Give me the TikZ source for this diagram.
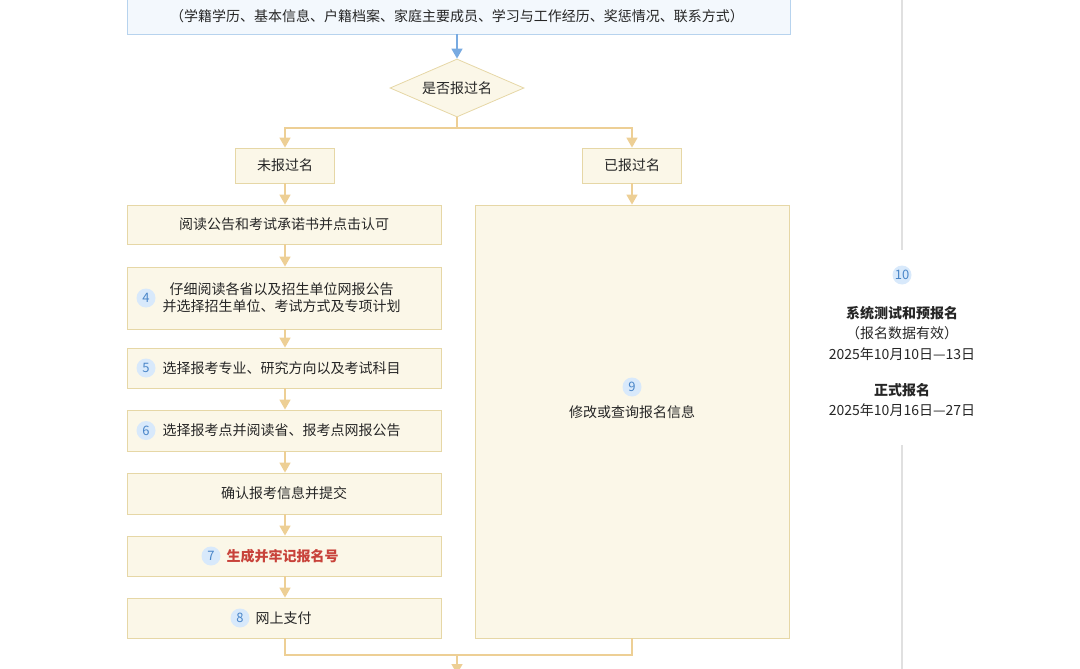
\documentclass[tikz,border=0pt]{standalone}
\usepackage{fontspec}
\setmainfont{Noto Sans CJK SC}
\usetikzlibrary{shapes.geometric,arrows.meta}
\definecolor{bfill}{HTML}{FBF7E8}
\definecolor{bdraw}{HTML}{E6D7A6}
\definecolor{arr}{HTML}{EDCF95}
\definecolor{cfill}{HTML}{D8E9FB}
\definecolor{cnum}{HTML}{4A86C8}
\definecolor{tfill}{HTML}{F3F8FD}
\definecolor{tdraw}{HTML}{B7D3EE}
\definecolor{redt}{HTML}{C8423A}
\begin{document}
\begin{tikzpicture}[x=1pt,y=-1pt,
  box/.style={draw=bdraw,fill=bfill,line width=0.8pt,inner sep=0pt},
  txt/.style={font=\fontsize{14}{17}\selectfont,text=black!85,align=center},
  num/.style={circle,fill=cfill,text=cnum,inner sep=0pt,minimum size=19pt,font=\fontsize{13}{13}\selectfont},
  con/.style={draw=arr,line width=1.6pt},
  arw/.style={con,-{Triangle[width=11pt,length=10pt]}}]
\useasboundingbox (0,0) rectangle (1080,669);
% top box
\path[draw=tdraw,fill=tfill,line width=0.8pt] (127,-10) rectangle (790,34);
\node[txt] (top) at (457,16) {（学籍学历、基本信息、户籍档案、家庭主要成员、学习与工作经历、奖惩情况、联系方式）};
\coordinate (topb) at (457,34);
\node[diamond,draw=bdraw,fill=bfill,line width=0.8pt,minimum width=134pt,minimum height=58pt,inner sep=0pt,aspect=2.3,txt] (q) at (457,88) {是否报过名};
\draw[line width=1.6pt,-{Triangle[width=11pt,length=10pt]},draw={rgb,255:red,120;green,170;blue,225}] (topb) -- (q.north);
% branch boxes
\node[box,minimum width=99pt,minimum height=35pt,txt] (no) at (285,165.5) {未报过名};
\node[box,minimum width=99pt,minimum height=35pt,txt] (yes) at (632,165.5) {已报过名};
\coordinate (split) at (457,128);
\draw[con] (q.south) -- (split);
\draw[arw] (split) -| (no.north);
\draw[arw] (split) -| (yes.north);
% left chain
\node[box,minimum width=314pt,minimum height=39pt,txt] (s1) at (284,224.5) {阅读公告和考试承诺书并点击认可};
\node[box,minimum width=314pt,minimum height=62pt] (s4) at (284,298) {};
\node[num] (n4) at (146,298) {4};
\node[txt,anchor=west] (t4) at (159,298) {仔细阅读各省以及招生单位网报公告\\并选择招生单位、考试方式及专项计划};
\node[box,minimum width=314pt,minimum height=40pt] (s5) at (284,368) {};
\node[num] (n5) at (146,368) {5};
\node[txt,anchor=west] (t5) at (159,368) {选择报考专业、研究方向以及考试科目};
\node[box,minimum width=314pt,minimum height=41pt] (s6) at (284,430.5) {};
\node[num] (n6) at (146,430.5) {6};
\node[txt,anchor=west] (t6) at (159,430.5) {选择报考点并阅读省、报考点网报公告};
\node[box,minimum width=314pt,minimum height=41pt,txt] (s7a) at (284,493.5) {确认报考信息并提交};
\node[box,minimum width=314pt,minimum height=40pt] (s7) at (284,556) {};
\node[num] (n7) at (211,556) {7};
\node[txt,anchor=west,text=redt,font=\fontsize{14}{17}\selectfont\bfseries] (t7) at (223,556) {生成并牢记报名号};
\node[box,minimum width=314pt,minimum height=40pt] (s8) at (284,618) {};
\node[num] (n8) at (240,618) {8};
\node[txt,anchor=west] (t8) at (252,618) {网上支付};
\draw[arw] (no.south) -- (s1.north -| no.south);
\foreach \a/\b in {s1/s4,s4/s5,s5/s6,s6/s7a,s7a/s7,s7/s8}
  \draw[arw] (\a.south -| no.south) -- (\b.north -| no.south);
% right big box
\node[box,minimum width=314pt,minimum height=433pt] (s9) at (632,421.5) {};
\node[num] (n9) at (632,387) {9};
\node[txt] (t9) at (632,412) {修改或查询报名信息};
\draw[arw] (yes.south) -- (s9.north -| yes.south);
% bottom merge
\coordinate (m1) at (285,655);
\coordinate (m2) at (632,655);
\coordinate (mb) at (457,674);
\draw[con] (s8.south -| no.south) -- (m1) -- (m2) -- (s9.south -| yes.south);
\draw[arw] (457,655) -- (mb);
% timeline
\coordinate (l1) at (902,0);
\coordinate (l2) at (902,250);
\coordinate (l3) at (902,445);
\coordinate (l4) at (902,669);
\draw[black!12,line width=1.4pt] (l1) -- (l2) (l3) -- (l4);
\node[num] (n10) at (902,275) {10};
\node[txt,font=\fontsize{14}{20.5}\selectfont] (t10) at (902,333) {\textbf{系统测试和预报名}\\（报名数据有效）\\2025年10月10日—13日};
\node[txt,font=\fontsize{14}{20}\selectfont] (t11) at (902,400.5) {\textbf{正式报名}\\2025年10月16日—27日};
\end{tikzpicture}
\end{document}
